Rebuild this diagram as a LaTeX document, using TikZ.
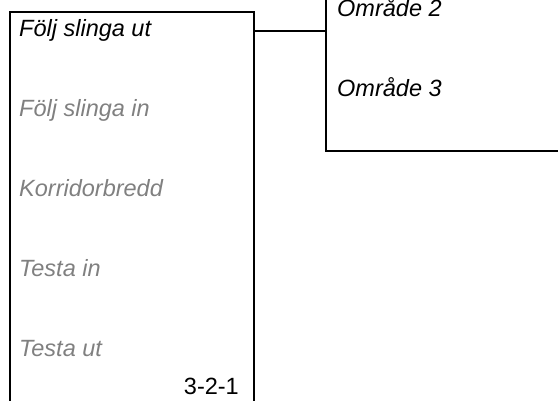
\documentclass[tikz,border=0pt]{standalone}
\usepackage{fontspec}
\setmainfont{Liberation Sans}
\definecolor{dimtext}{HTML}{808080}
\tikzset{
  boxline/.style={line width=1.8pt, line join=miter},
  item/.style={anchor=base west, inner sep=0pt, font=\fontsize{23.5}{28}\selectfont\itshape},
  active/.style={item, text=black},
  inactive/.style={item, text=dimtext},
  code/.style={anchor=base east, inner sep=0pt, font=\fontsize{23.5}{28}\selectfont, text=black}
}
\begin{document}
\begin{tikzpicture}[x=1pt,y=-1pt]
\useasboundingbox (0,0) rectangle (558,401);
\clip (0,0) rectangle (558,401);
% left menu box (open at bottom)
\draw[boxline] (10,410) -- (10,12) -- (254,12) -- (254,410);
% right submenu box (cut at top and right)
\draw[boxline] (326,-10) -- (326,151) -- (570,151);
% connector
\coordinate (lm) at (254,31);
\coordinate (rm) at (326,31);
\draw[boxline] (lm) -- (rm);
% left texts
\node[active]   (t1) at (19,37)  {Följ slinga ut};
\node[inactive] (t2) at (19,117) {Följ slinga in};
\node[inactive] (t3) at (19,197) {Korridorbredd};
\node[inactive] (t4) at (19,277) {Testa in};
\node[inactive] (t5) at (19,357) {Testa ut};
\node[code]     (c1) at (239,395) {3-2-1};
% right texts
\node[active] (r2) at (337,17) {Område 2};
\node[active] (r3) at (337,97) {Område 3};
\end{tikzpicture}
\end{document}
